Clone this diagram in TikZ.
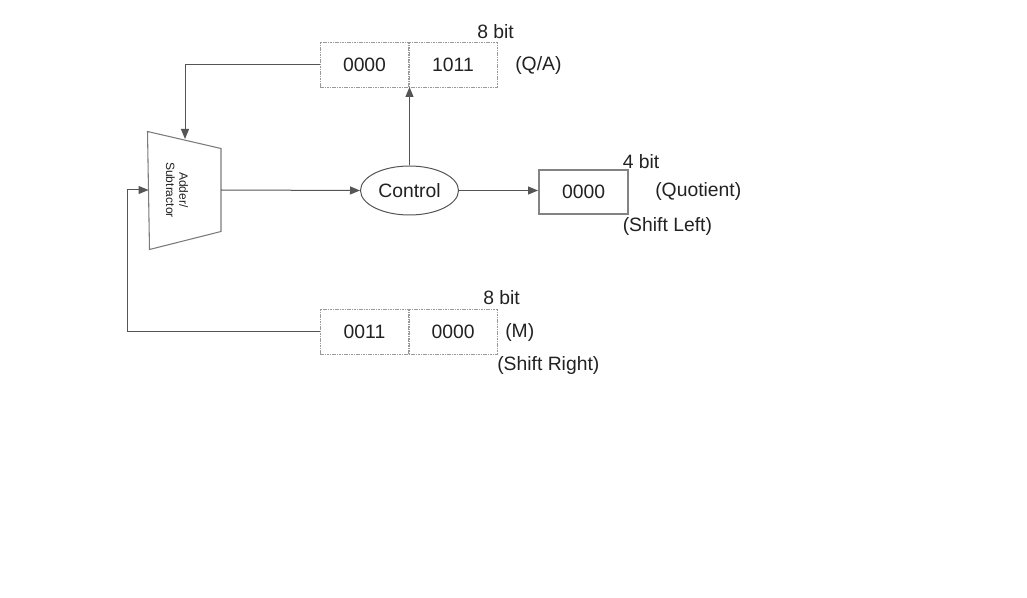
\documentclass[tikz,border=0pt]{standalone}
\usepackage{fontspec}
\setmainfont{Liberation Sans}
\usetikzlibrary{arrows.meta,shapes.geometric}
\definecolor{linec}{HTML}{555555}
\definecolor{regc}{HTML}{9A9A9A}
\definecolor{txtc}{HTML}{222222}
\begin{document}
\begin{tikzpicture}[x=0.75pt,y=-0.75pt,
  font=\fontsize{14.5}{17}\selectfont, text=txtc,
  reg/.style={draw=regc, line width=0.6pt, dash pattern=on 1.2pt off 0.6pt},
  conn/.style={draw=linec, line width=0.75pt},
  arr/.style={conn, -{Triangle[length=7.5pt,width=6pt]}},
  lbl/.style={inner sep=0pt, anchor=west}]
\useasboundingbox (0,0) rectangle (1027,598);
\fill[white] (0,0) rectangle (1027,598);

% Q/A register
\node[reg, minimum width=89*0.75pt, minimum height=45*0.75pt, inner sep=0pt] (qa1) at (364.5,64.5) {0000};
\node[reg, minimum width=89*0.75pt, minimum height=45*0.75pt, inner sep=0pt] (qa2) at (453,64.5) {1011};
\node[lbl] (qabit) at (477,31.5) {8 bit};
\node[lbl] (qalbl) at (515,66) {(Q/A)};

% M register
\node[reg, minimum width=89*0.75pt, minimum height=45*0.75pt, inner sep=0pt] (m1) at (364.5,331.5) {0011};
\node[reg, minimum width=89*0.75pt, minimum height=45*0.75pt, inner sep=0pt] (m2) at (453,331.5) {0000};
\node[lbl] (mbit) at (483,298) {8 bit};
\node[lbl] (mlbl) at (505,332) {(M)};
\node[lbl] (mshift) at (497,366) {(Shift Right)};

% Adder/Subtractor
\coordinate (a1) at (147.5,131.5);
\coordinate (a2) at (221,148.5);
\coordinate (a3) at (221,231.5);
\coordinate (a4) at (149.5,249.5);
\draw[draw=regc!80!black, line width=0.8pt, fill=white] (a1) -- (a2) -- (a3) -- (a4) -- cycle;
\node[rotate=-90, font=\fontsize{9}{10}\selectfont, align=center, inner sep=0pt] (adder) at (177,190) {Adder/\\Subtractor};
\coordinate (addin1) at (185,139);
\coordinate (addin2) at (148.5,190);
\coordinate (addout) at (221,190);

% Control
\node[draw=linec, line width=0.75pt, ellipse, minimum width=98*0.75pt, minimum height=49*0.75pt, inner sep=0pt] (ctrl) at (409.5,190.5) {Control};

% Quotient
\node[draw=regc!85!black, line width=1.5pt, minimum width=89*0.75pt, minimum height=44*0.75pt, inner sep=0pt] (quot) at (583.5,192) {0000};
\node[lbl] (qbit) at (622.5,161.5) {4 bit};
\node[lbl] (qlbl) at (655,191) {(Quotient)};
\node[lbl] (qshift) at (622.5,226.5) {(Shift Left)};

% connectors
\draw[arr] (qa1.west) -- (185,64.5) -- (addin1);
\draw[arr] (m1.west) -- (127,331.5) -- (127,190) -- (addin2);
\draw[arr] (addout) -- (ctrl.west);
\draw[arr] (ctrl.north) -- (409.5,87);
\draw[arr] (ctrl.east) -- (quot.west |- ctrl.east);
\end{tikzpicture}
\end{document}
